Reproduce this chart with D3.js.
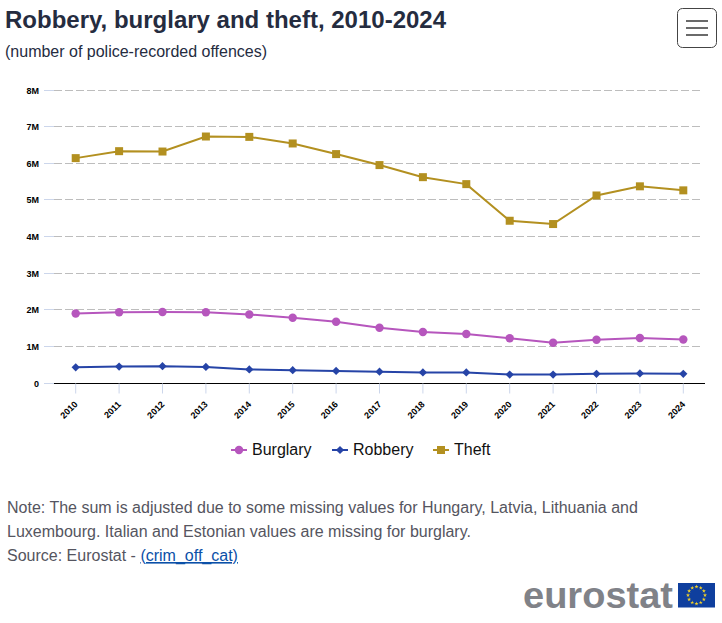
<!DOCTYPE html>
<html>
<head>
<meta charset="utf-8">
<script src="https://cdn.jsdelivr.net/npm/d3@7"></script>
<style>
html, body { margin: 0; padding: 0; background: #fff; }
svg { display: block; font-family: "Liberation Sans", Arial, sans-serif; }
.tick text { font-size: 9px; font-weight: bold; fill: #000; }
</style>
</head>
<body>
<div id="chart"></div>
<script>
var years = ["2010","2011","2012","2013","2014","2015","2016","2017","2018","2019","2020","2021","2022","2023","2024"];
var burglary = [1.90,1.93,1.94,1.93,1.87,1.78,1.67,1.51,1.39,1.34,1.22,1.10,1.18,1.23,1.19];
var robbery = [0.43,0.45,0.46,0.44,0.37,0.35,0.33,0.31,0.29,0.29,0.23,0.23,0.25,0.26,0.25];
var theft = [6.14,6.33,6.32,6.73,6.72,6.54,6.25,5.95,5.62,5.43,4.43,4.34,5.12,5.37,5.26];
var yTicks = [0,1,2,3,4,5,6,7,8];

var seriesNames = ["Burglary","Robbery","Theft"];
var seriesValues = [burglary, robbery, theft];
var seriesColors = ["#b656bd","#2644a7","#b39020"];
var seriesSymbols = [d3.symbolCircle, d3.symbolSquare, d3.symbolSquare];
var symbolSizes = [56, 34, 64];
var symbolTurn = [0, 45, 0];

var noteLines = [
	"Note: The sum is adjusted due to some missing values for Hungary, Latvia, Lithuania and",
	"Luxembourg. Italian and Estonian values are missing for burglary."
];

var svg = d3.select("#chart").append("svg")
	.attr("width", 722)
	.attr("height", 623);

svg.append("text").attr("x", 5).attr("y", 28)
	.style("font-size", "24px").style("font-weight", "bold").style("fill", "#252c3f")
	.text("Robbery, burglary and theft, 2010-2024");
svg.append("text").attr("x", 5).attr("y", 57)
	.style("font-size", "16px").style("fill", "#252c3f")
	.text("(number of police-recorded offences)");

// menu button
svg.append("rect").attr("x", 677.5).attr("y", 8.5).attr("width", 39).attr("height", 39).attr("rx", 5)
	.style("fill", "#fff").style("stroke", "#444").style("stroke-width", 1);
[21, 28, 35].forEach(function(y){
	svg.append("line").attr("x1", 686).attr("x2", 708).attr("y1", y).attr("y2", y)
		.style("stroke", "#444").style("stroke-width", 1.6);
});

var x = d3.scaleBand().domain(years).range([54, 705]);
var y = d3.scaleLinear().domain([0, 8]).range([383, 90]);

function fmt(d){ return d === 0 ? "0" : d + "M"; }

// y axis with dashed gridlines, snapped to whole pixel rows
var gy = svg.append("g").attr("transform", "translate(44,0)")
	.call(d3.axisRight(y).tickValues(yTicks).tickFormat(fmt).tickSize(10));
gy.select(".domain").remove();
gy.selectAll(".tick").attr("transform", function(d){
	return "translate(0," + (Math.floor(y(d)) + 0.5) + ")";
});
gy.selectAll(".tick line").style("stroke", "#ccd6eb");
gy.selectAll(".tick text").attr("x", -5).attr("y", 1).attr("text-anchor", "end");
gy.selectAll(".tick").filter(function(d){ return d > 0; }).append("line")
	.attr("x1", 10).attr("x2", 659)
	.style("stroke", "#bdbdbd").style("stroke-width", 1).style("stroke-dasharray", "8,3");

// x axis
var gx = svg.append("g").attr("transform", "translate(0,383.5)")
	.call(d3.axisBottom(x).tickSize(10).tickSizeOuter(0));
gx.select(".domain").style("stroke", "#000").style("stroke-width", 1.2)
	.attr("d", "M54,0H705");
gx.selectAll(".tick line").style("stroke", "#ccd6eb");
gx.selectAll(".tick text")
	.attr("text-anchor", "end")
	.attr("dy", 0).attr("x", 0).attr("y", 0)
	.attr("transform", "translate(2.5,21.5) rotate(-45)");

var line = d3.line()
	.x(function(d, i){ return x(years[i]) + x.bandwidth() / 2; })
	.y(function(d){ return y(d); });

seriesValues.forEach(function(values, s){
	var g = svg.append("g");
	g.append("path").datum(values).attr("d", line)
		.style("fill", "none").style("stroke", seriesColors[s]).style("stroke-width", 2);
	g.selectAll("path.pt").data(values).enter().append("path")
		.attr("class", "pt")
		.attr("d", d3.symbol().type(seriesSymbols[s]).size(symbolSizes[s]))
		.attr("transform", function(d, i){
			return "translate(" + (x(years[i]) + x.bandwidth() / 2) + "," + y(d) + ") rotate(" + symbolTurn[s] + ")";
		})
		.style("fill", seriesColors[s]);
});

// legend
var legendX = [231, 332, 433];
seriesNames.forEach(function(name, s){
	var g = svg.append("g").attr("transform", "translate(" + legendX[s] + ",450)");
	g.append("line").attr("x1", 0).attr("x2", 16)
		.style("stroke", seriesColors[s]).style("stroke-width", 2);
	g.append("path").attr("transform", "translate(8,0) rotate(" + symbolTurn[s] + ")")
		.attr("d", d3.symbol().type(seriesSymbols[s]).size(symbolSizes[s]))
		.style("fill", seriesColors[s]);
	g.append("text").attr("x", 21).attr("y", 4.5)
		.style("font-size", "16px").style("fill", "#111")
		.text(name);
});

// note and source
noteLines.forEach(function(t, i){
	svg.append("text").attr("x", 7).attr("y", 513 + i * 24)
		.style("font-size", "16px").style("fill", "#555560").text(t);
});
var src = svg.append("text").attr("x", 7).attr("y", 561)
	.style("font-size", "16px").style("fill", "#555560");
src.append("tspan").text("Source: Eurostat - ");
src.append("tspan").style("fill", "#0b50a8").style("text-decoration", "underline").text("(crim_off_cat)");

// logo
svg.append("text").attr("x", 523).attr("y", 608)
	.attr("textLength", 150).attr("lengthAdjust", "spacingAndGlyphs")
	.style("font-size", "36px").style("font-weight", "bold").style("fill", "#808288")
	.text("eurostat");
svg.append("rect").attr("x", 678).attr("y", 583).attr("width", 37).attr("height", 24.5)
	.style("fill", "#0f3f9e");
d3.range(12).forEach(function(i){
	var a = i / 12 * 2 * Math.PI;
	svg.append("path")
		.attr("d", d3.symbol().type(d3.symbolStar).size(5))
		.attr("transform", "translate(" + (696.5 + 8.5 * Math.sin(a)) + "," + (595.2 - 8.5 * Math.cos(a)) + ")")
		.style("fill", "#f5d327");
});
</script>
</body>
</html>
